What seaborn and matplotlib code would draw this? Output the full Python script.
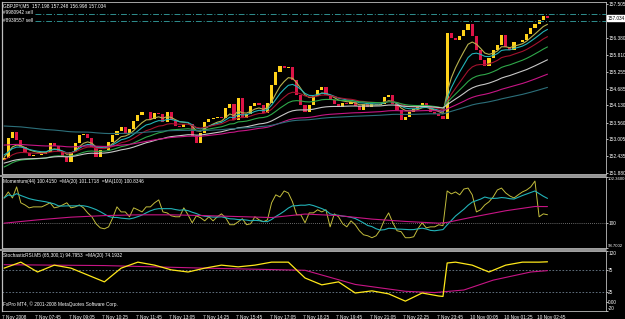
import numpy as np
import pandas as pd
import matplotlib
matplotlib.use("Agg")
import matplotlib.pyplot as plt
import seaborn as sns

# ---------------- data ----------------
first_open = 152.30
closes = [152.380, 153.045, 153.245, 152.979, 152.746, 152.546, 152.446, 152.479, 152.479, 152.513,
          152.579, 152.879, 152.779, 152.613, 152.413, 152.246, 152.579, 152.879, 153.145, 153.179,
          153.045, 152.746, 152.413, 152.646, 152.646, 152.912, 153.145, 153.279, 153.412, 153.179,
          153.345, 153.612, 153.811, 153.911, 153.911, 153.678, 153.878, 153.845, 153.578, 153.911,
          153.645, 153.445, 153.412, 153.512, 153.512, 153.112, 152.879, 153.212, 153.578, 153.678,
          153.712, 153.745, 153.712, 154.045, 154.178, 153.645, 154.378, 153.712, 153.845, 154.111,
          154.211, 154.144, 153.878, 154.211, 154.810, 155.243, 155.443, 155.377, 155.410, 154.977,
          154.477, 154.144, 153.911, 154.144, 154.444, 154.644, 154.744, 154.477, 154.311, 154.178,
          154.078, 154.211, 154.178, 154.244, 154.111, 153.978, 154.178, 154.078, 154.178, 154.144,
          154.178, 154.411, 154.477, 154.178, 153.978, 153.645, 153.745, 153.911, 154.011, 154.078,
          154.211, 154.111, 153.911, 153.845, 153.778, 153.678, 156.542, 156.376, 156.309, 156.442,
          156.642, 156.842, 156.442, 155.976, 155.643, 155.443, 155.710, 155.976, 156.142, 156.475,
          156.076, 155.976, 156.242, 156.242, 156.309, 156.509, 156.709, 156.842, 156.975, 157.108,
          157.034]

ema_periods = [13, 21, 34, 55, 89, 144, 233]
ema_seeds = [152.40, 152.48, 152.31, 152.08, 152.21, 152.81, 153.445]
ema_colors = ["#B8B24E", "#22B3B8", "#A3122E", "#2FA84A", "#C8C8C8", "#C71585", "#2C6F7A"]

momentum = [101.28, 101.59, 101.28, 101.85, 101.03, 100.92, 100.77, 100.82, 100.82, 100.82,
            100.92, 101.03, 100.77, 100.82, 100.92, 101.03, 100.77, 100.82, 100.92, 100.77,
            100.51, 100.31, 99.95, 99.74, 99.69, 99.79, 100.26, 100.82, 100.56, 100.56,
            100.31, 100.77, 100.67, 100.56, 100.82, 100.82, 101.03, 101.18, 100.56, 100.51,
            100.36, 100.31, 100.31, 100.77, 100.41, 100.00, 100.36, 100.26, 100.10, 100.31,
            100.10, 100.31, 100.46, 100.26, 99.90, 99.90, 100.05, 100.21, 99.90, 99.95,
            100.31, 100.15, 100.05, 100.15, 101.03, 101.44, 101.33, 101.64, 101.54, 101.08,
            100.41, 100.41, 100.00, 100.51, 100.51, 100.67, 100.56, 100.67, 99.79, 100.46,
            100.31, 99.95, 99.79, 100.10, 99.90, 99.59, 99.38, 99.33, 99.23, 99.33,
            99.64, 100.15, 100.51, 100.00, 99.59, 99.54, 99.23, 99.23, 99.28, 99.69,
            100.00, 99.74, 99.79, 99.79, 99.90, 99.85, 101.64, 101.49, 101.59, 101.44,
            101.74, 101.79, 101.44, 100.56, 100.67, 100.92, 101.08, 101.33, 101.69, 101.79,
            101.54, 101.38, 101.28, 101.44, 101.59, 101.69, 101.85, 102.15, 100.31, 100.46,
            100.415]
mom_ma100_idx = [0, 8, 16, 24, 32, 40, 48, 56, 64, 72, 80, 88, 96, 104, 106, 112, 120, 127, 130]
mom_ma100 = [99.98, 100.15, 100.29, 100.37, 100.41, 100.41, 100.37, 100.32, 100.27, 100.45,
             100.37, 100.19, 100.07, 99.98, 100.02, 100.29, 100.62, 100.84, 100.8346]

stoch_idx = [0, 4, 8, 12, 16, 20, 24, 28, 32, 36, 40, 44, 48, 52, 56, 60, 64, 68, 72, 76,
             80, 84, 88, 92, 96, 100, 104, 105, 106, 108, 112, 116, 120, 124, 128, 130]
stoch = [80, 94, 71, 87, 80, 64, 48, 80, 94, 87, 76, 71, 80, 87, 83, 87, 94, 94, 57, 41,
         48, 22, 27, 20, 3, 22, 15, 14, 92, 94, 87, 71, 87, 94, 94, 94.7953]
stoch_ma_idx = [0, 24, 48, 72, 84, 96, 103, 110, 117, 126, 130]
stoch_ma = [88.0, 86.0, 80.0, 75.0, 42.0, 26.0, 23.0, 29.0, 52.0, 71.0, 74.1932]

price_ticks = [151.880, 152.435, 153.005, 153.560, 154.130, 154.685, 155.255, 155.810, 156.380, 157.505]
time_labels = ["7 Nov 2008", "7 Nov 07:45", "7 Nov 09:05", "7 Nov 10:25", "7 Nov 11:45",
               "7 Nov 13:05", "7 Nov 14:25", "7 Nov 15:45", "7 Nov 17:05", "7 Nov 18:25",
               "7 Nov 19:45", "7 Nov 21:05", "7 Nov 22:25", "7 Nov 23:45", "10 Nov 00:05",
               "10 Nov 01:25", "10 Nov 02:45"]
order_lines = [157.19, 156.925]
order_labels = ["#9980942 sell", "#8939557 sell"]

# ---------------- style ----------------
sns.set_theme(style="dark", rc={"axes.facecolor": "black", "figure.facecolor": "black",
                                "axes.grid": False})
plt.rcParams["font.family"] = ["Liberation Sans", "DejaVu Sans"]
FS = 3.4
W, H = 625, 319

fig = plt.figure(figsize=(W / 100, H / 100), dpi=100)
fig.patch.set_facecolor("black")


def ax_at(top_px, bot_px):
    return fig.add_axes([2 / W, 1 - bot_px / H, (606 - 2) / W, (bot_px - top_px) / H])


ax_p = ax_at(2, 174)
ax_m = ax_at(177, 248)
ax_s = ax_at(251, 311)
XMAX = 144.0

# ---------------- price panel ----------------
idx = np.arange(len(closes))
c = np.array(closes)
o = np.array([first_open] + closes[:-1])

for per, seed, col in zip(ema_periods, ema_seeds, ema_colors):
    a = 1 - (1 - 2 / (per + 1)) ** 2  # one candle = two M5 bars
    vals = [seed]
    for v in c[1:]:
        vals.append(vals[-1] + a * (v - vals[-1]))
    d = pd.DataFrame({"i": idx, "ema": vals})
    sns.lineplot(data=d, x="i", y="ema", ax=ax_p, color=col, lw=0.8, legend=False)

up = c >= o
body = np.maximum(np.abs(c - o), 0.012)
ax_p.bar(idx, body, bottom=np.minimum(o, c), width=0.75,
         color=np.where(up, "#FFD21A", "#DC1447"), linewidth=0)

ax_p.set_ylim(151.847, 157.574)
for y in order_lines:
    ax_p.axhline(y, xmin=0.055, color="#2F8F8F", lw=0.7, ls=(0, (6, 2, 1, 2)))
ax_p.text(1.002, 157.034, "157.034", transform=ax_p.get_yaxis_transform(), fontsize=FS,
          color="black", va="center", ha="left",
          bbox=dict(boxstyle="square,pad=0.08", fc="white", ec="white"))


def ftext(x, y, s, **kw):
    fig.text(x / W, 1 - y / H, s, color="white", fontsize=FS, va="center", ha="left", **kw)


ftext(3, 6, "GBPJPY,M5  157.198 157.248 156.998 157.034")
ftext(3, 12.5, order_labels[0])
ftext(3, 20, order_labels[1])

# ---------------- momentum panel ----------------
dm = pd.DataFrame({"i": idx, "mom": momentum})
dm["ma20"] = dm["mom"].rolling(10, min_periods=1).mean()
ax_m.axhline(100, color="#8C8C8C", lw=0.6, ls=(0, (1, 1.5)))
sns.lineplot(data=dm, x="i", y="mom", ax=ax_m, color="#C2BC3C", lw=0.7, legend=False)
sns.lineplot(data=dm, x="i", y="ma20", ax=ax_m, color="#22B3B8", lw=0.8, legend=False)
dmm = pd.DataFrame({"i": mom_ma100_idx, "v": mom_ma100})
sns.lineplot(data=dmm, x="i", y="v", ax=ax_m, color="#C71585", lw=0.8, legend=False)
ax_m.set_ylim(98.7002, 102.36)
ftext(3, 181.5, "Momentum(44) 100.4150  =MA(20) 101.1718  =MA(100) 100.8346")

# ---------------- stochastic RSI panel ----------------
ax_s.axhline(75, color="#6F7F8F", lw=0.6, ls=(0, (2, 2)))
ax_s.axhline(25, color="#6F7F8F", lw=0.6, ls=(0, (2, 2)))
dsm = pd.DataFrame({"i": stoch_ma_idx, "v": stoch_ma})
sns.lineplot(data=dsm, x="i", y="v", ax=ax_s, color="#C71585", lw=0.8, legend=False)
ds = pd.DataFrame({"i": stoch_idx, "v": stoch})
sns.lineplot(data=ds, x="i", y="v", ax=ax_s, color="#FFE81A", lw=0.9, legend=False)
ax_s.set_ylim(-20, 120)
ftext(3, 256, "StochasticRSI.M5 (65,300,1) 94.7953  =MA(20) 74.1932")
ftext(3, 304, "FxPro MT4, © 2001-2008 MetaQuotes Software Corp.")

# ---------------- common axis styling (after seaborn sets labels) ----------------
for ax in (ax_p, ax_m, ax_s):
    ax.set_facecolor("black")
    ax.set_xlim(-0.5, XMAX)
    ax.set_xlabel("")
    ax.set_ylabel("")
    ax.yaxis.tick_right()
    ax.tick_params(axis="y", colors="white", labelsize=FS, length=1.2, width=0.5, pad=0.3)
    for side, sp in ax.spines.items():
        sp.set_color("#BFBFBF")
        sp.set_linewidth(0.6)
        sp.set_linestyle((0, (1, 1)))
    ax.spines["left"].set_linestyle("-")
    ax.spines["left"].set_linewidth(0.9)

ax_p.set_yticks(price_ticks)
ax_p.set_yticklabels([f"{t:.3f}" for t in price_ticks])
ax_p.set_xticks([])
ax_m.set_yticks([98.7002, 100, 102.36])
ax_m.set_yticklabels(["98.7002", "100", "102.3600"])
labs = ax_m.get_yticklabels()
labs[0].set_va("bottom")
labs[2].set_va("top")
labs[0].set_fontsize(3.1)
labs[2].set_fontsize(3.1)
ax_m.set_xticks([])
ax_s.set_yticks([-20, 0, 25, 75, 120])
ax_s.set_yticklabels(["-20", "0.00", "25", "75", "120"])
labs = ax_s.get_yticklabels()
labs[0].set_va("bottom")
labs[4].set_va("top")
tpos = [8 * k - 0.5 for k in range(len(time_labels))]
ax_s.set_xticks(tpos)
ax_s.set_xticklabels(time_labels, ha="left")
ax_s.tick_params(axis="x", colors="white", labelsize=FS, length=2, width=0.5,
                 direction="out", pad=1.0)

# panel separators
for ypx in (175.5, 249.5):
    fig.add_artist(plt.Line2D([0, 606 / W], [1 - ypx / H] * 2, color="#9A9A9A", lw=1.4,
                              transform=fig.transFigure))

fig.savefig("out.png", dpi=100, facecolor="black")
